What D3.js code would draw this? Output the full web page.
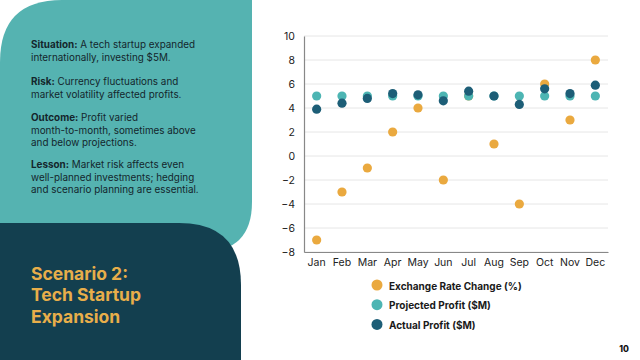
<!DOCTYPE html>
<html><head><meta charset="utf-8">
<script src="https://cdn.jsdelivr.net/npm/d3@7"></script>
<style>html,body{margin:0;padding:0;background:#fff;}svg{display:block;}</style>
</head><body>
<script>
const months = ["Jan","Feb","Mar","Apr","May","Jun","Jul","Aug","Sep","Oct","Nov","Dec"];
const exchangeRate = [-7,-3,-1,2,4,-2,5,1,-4,6,3,8];
const projectedProfit = [5,5,5,5,5,5,5,5,5,5,5,5];
const actualProfit = [3.9,4.4,4.8,5.2,5.1,4.6,5.4,5.0,4.3,5.6,5.2,5.9];
const yTicks = [-8,-6,-4,-2,0,2,4,6,8,10];
const seriesNames = ["Exchange Rate Change (%)","Projected Profit ($M)","Actual Profit ($M)"];
const seriesColors = ["#EAA93F","#4DB5B3","#1D5E77"];

const W=640,H=360;
const svg=d3.select("body").append("svg").attr("width",W).attr("height",H);

function roundedPath(x0,y0,x1,y1,rtl,rtr,rbr,rbl){
  const p=d3.path();
  p.moveTo(x0+rtl,y0);
  p.lineTo(x1-rtr,y0);
  if(rtr) p.quadraticCurveTo(x1,y0,x1,y0+rtr);
  p.lineTo(x1,y1-rbr);
  if(rbr) p.quadraticCurveTo(x1,y1,x1-rbr,y1);
  p.lineTo(x0+rbl,y1);
  if(rbl) p.quadraticCurveTo(x0,y1,x0,y1-rbl);
  p.lineTo(x0,y0+rtl);
  if(rtl) p.quadraticCurveTo(x0,y0,x0+rtl,y0);
  p.closePath();
  return p.toString();
}
svg.append("path").attr("d",roundedPath(0,0,252,252,62,0,50,0)).attr("fill","#55B3B1");
svg.append("path").attr("d",roundedPath(0,223,241,372,0,62,0,0)).attr("fill","#133F4F");

const textFont="Inter, 'Noto Sans', sans-serif";
const paras=[
  {b:"Situation:",lines:[" A tech startup expanded","internationally, investing $5M."],y:45},
  {b:"Risk:",lines:[" Currency fluctuations and","market volatility affected profits."],y:82},
  {b:"Outcome:",lines:[" Profit varied","month-to-month, sometimes above","and below projections."],y:118},
  {b:"Lesson:",lines:[" Market risk affects even","well-planned investments; hedging","and scenario planning are essential."],y:165}
];
paras.forEach(p=>{
  p.lines.forEach((ln,i)=>{
    const t=svg.append("text").attr("x",31).attr("y",p.y+i*12.3).attr("dy","0.35em")
      .attr("font-family",textFont).attr("font-size",9.9).attr("fill","#14262c");
    if(i===0){ t.append("tspan").attr("font-weight",700).text(p.b); }
    t.append("tspan").text(ln);
  });
});
["Scenario 2:","Tech Startup","Expansion"].forEach((s,i)=>{
  svg.append("text").attr("x",31).attr("y",274+i*21.3).attr("dy","0.35em")
    .attr("font-family",textFont).attr("font-weight",700).attr("font-size",17.5)
    .attr("fill","#E8AE4A").text(s);
});

const x=d3.scaleBand().domain(months).range([304,608]);
const y=d3.scaleLinear().domain([-8,10]).range([252,36]);
const g=svg.append("g");
g.selectAll(".grid").data(yTicks).join("line")
  .attr("x1",304).attr("x2",608).attr("y1",d=>y(d)).attr("y2",d=>y(d))
  .attr("stroke","#e6e6e6").attr("stroke-width",1);
const yAxis=g.append("g").attr("transform","translate(304,0)")
  .call(d3.axisLeft(y).tickValues(yTicks).tickSize(0).tickPadding(9));
yAxis.select(".domain").attr("stroke","#888").attr("stroke-width",1.2);
yAxis.selectAll("text").attr("font-family",textFont).attr("font-size",10.5).attr("fill","#222");
const xAxis=g.append("g").attr("transform","translate(0,252)")
  .call(d3.axisBottom(x).tickSize(0).tickPadding(7));
xAxis.select(".domain").attr("stroke","#888").attr("stroke-width",1.2);
xAxis.selectAll("text").attr("font-family",textFont).attr("font-size",10.5).attr("fill","#222");

const allSeries=[exchangeRate,projectedProfit,actualProfit];
allSeries.forEach((vals,si)=>{
  g.append("g").selectAll("circle").data(vals).join("circle")
    .attr("cx",(d,i)=>x(months[i])+x.bandwidth()/2)
    .attr("cy",d=>y(d)).attr("r",4.6).attr("fill",seriesColors[si]);
});

seriesNames.forEach((n,i)=>{
  const ly=285+i*19.7;
  svg.append("circle").attr("cx",377).attr("cy",ly).attr("r",5.5).attr("fill",seriesColors[i]);
  svg.append("text").attr("x",389).attr("y",ly+1).attr("dy","0.35em")
    .attr("font-family",textFont).attr("font-weight",700).attr("font-size",10)
    .attr("fill","#1a1a1a").text(n);
});
svg.append("text").attr("x",629).attr("y",349).attr("dy","0.35em").attr("text-anchor","end")
  .attr("font-family",textFont).attr("font-weight",800).attr("font-size",8.5).attr("fill","#111").text("10");
</script>
</body></html>
